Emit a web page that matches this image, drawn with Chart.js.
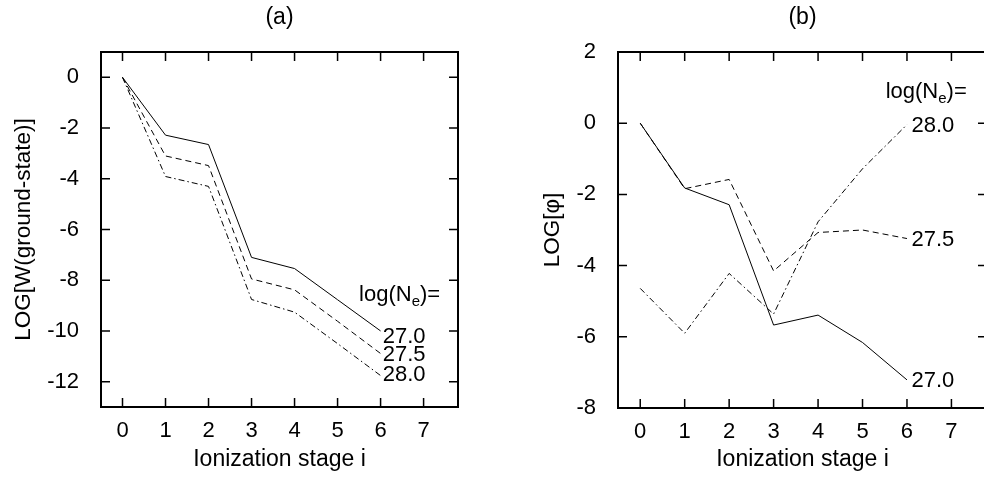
<!DOCTYPE html>
<html lang="en">
<head>
  <meta charset="UTF-8">
  <title>Ionization stage plots</title>
  <script src="https://cdn.jsdelivr.net/npm/chart.js"></script>
  <style>
    html, body {
      margin: 0;
      padding: 0;
      background: #fff;
      width: 984px;
      height: 485px;
      overflow: hidden;
    }
    #chartA { position: absolute; left: 0; top: 0; }
    #chartB { position: absolute; left: 492px; top: 0; }
  </style>
</head>
<body>
  <canvas id="chartA" width="492" height="485"></canvas>
  <canvas id="chartB" width="520" height="485"></canvas>

  <script>
    // ionization stages and tick values
    const stages = [0, 1, 2, 3, 4, 5, 6];
    const xTicks = [0, 1, 2, 3, 4, 5, 6, 7];
    const yTicksA = [0, -2, -4, -6, -8, -10, -12];
    const yTicksB = [2, 0, -2, -4, -6, -8];
    const densities = ['27.0', '27.5', '28.0'];

    // (a) LOG W(ground-state)
    const groundW_27_0 = [0, -2.28, -2.65, -7.1, -7.54, -8.77, -10.0];
    const groundW_27_5 = [0, -3.1, -3.48, -7.95, -8.38, -9.62, -10.89];
    const groundW_28_0 = [0, -3.91, -4.3, -8.76, -9.26, -10.5, -11.76];

    // (b) LOG phi
    const phi_27_0 = [0, -1.82, -2.29, -5.67, -5.39, -6.16, -7.21];
    const phi_27_5 = [0, -1.84, -1.58, -4.15, -3.07, -3.0, -3.24];
    const phi_28_0 = [-4.64, -5.9, -4.22, -5.36, -2.77, -1.28, -0.04];

    const FONT = "'Liberation Sans', Arial, sans-serif";
    const dashes = [[], [6, 4], [6, 3, 1.5, 3]];

    Chart.defaults.font.family = FONT;
    Chart.defaults.color = '#000';

    function toPoints(vals) {
      return stages.map((s, i) => ({ x: s, y: vals[i] }));
    }

    // frame with inward ticks on all four sides (gnuplot style)
    const framePlugin = {
      id: 'frame',
      afterDraw(chart) {
        const { ctx, chartArea: a, scales: { x, y } } = chart;
        ctx.save();
        ctx.strokeStyle = '#000';
        ctx.lineWidth = 1.5;
        ctx.beginPath();
        x.ticks.forEach(t => {
          const px = x.getPixelForValue(t.value);
          ctx.moveTo(px, a.bottom); ctx.lineTo(px, a.bottom - 9);
          ctx.moveTo(px, a.top); ctx.lineTo(px, a.top + 9);
        });
        y.ticks.forEach(t => {
          const py = y.getPixelForValue(t.value);
          ctx.moveTo(a.left, py); ctx.lineTo(a.left + 9, py);
          ctx.moveTo(a.right, py); ctx.lineTo(a.right - 9, py);
        });
        ctx.stroke();
        ctx.lineWidth = 2;
        ctx.strokeRect(a.left, a.top, a.right - a.left, a.bottom - a.top);
        ctx.restore();
      }
    };

    // curve labels: "log(Ne)=" header plus the density values
    const labelsPlugin = {
      id: 'curveLabels',
      afterDatasetsDraw(chart, args, opts) {
        const { ctx, scales: { x, y } } = chart;
        ctx.save();
        ctx.fillStyle = '#000';
        ctx.textAlign = 'left';
        ctx.font = '22px ' + FONT;
        ctx.textBaseline = 'middle';
        opts.names.forEach((name, i) => {
          ctx.fillText(name, x.getPixelForValue(opts.x), y.getPixelForValue(opts.y[i]));
        });
        const hx = x.getPixelForValue(opts.headX);
        const hy = y.getPixelForValue(opts.headY);
        ctx.textBaseline = 'alphabetic';
        ctx.fillText('log(N', hx, hy);
        let w = ctx.measureText('log(N').width;
        ctx.font = '15px ' + FONT;
        ctx.fillText('e', hx + w, hy + 5);
        w += ctx.measureText('e').width;
        ctx.font = '22px ' + FONT;
        ctx.fillText(')=', hx + w, hy);
        ctx.restore();
      }
    };

    function makeChart(id, cfg) {
      const ctx = document.getElementById(id).getContext('2d');
      return new Chart(ctx, {
        type: 'line',
        data: {
          datasets: cfg.series.map((vals, i) => ({
            label: densities[i],
            data: toPoints(vals),
            borderColor: '#000',
            borderWidth: 1,
            borderDash: dashes[i],
            pointRadius: 0,
            fill: false,
            tension: 0
          }))
        },
        options: {
          responsive: false,
          animation: false,
          layout: { padding: { left: 0, right: cfg.padRight, top: 0, bottom: 0 } },
          plugins: {
            legend: { display: false },
            tooltip: { enabled: false },
            title: {
              display: true,
              text: cfg.title,
              fullSize: false,
              color: '#000',
              font: { size: 23, weight: 'normal' },
              padding: { top: 4.2, bottom: 20.2 }
            },
            curveLabels: cfg.labels
          },
          scales: {
            x: {
              type: 'linear',
              min: -0.5,
              max: 7.8,
              afterBuildTicks: s => { s.ticks = xTicks.map(v => ({ value: v })); },
              afterFit: s => { s.height = cfg.xHeight; },
              grid: { display: false },
              border: { display: false },
              ticks: { font: { size: 22 }, color: '#000', padding: 3, maxRotation: 0 },
              title: {
                display: true,
                text: 'Ionization stage i',
                color: '#000',
                font: { size: 23 },
                padding: { top: 0, bottom: 12 }
              }
            },
            y: {
              type: 'linear',
              min: cfg.yMin,
              max: cfg.yMax,
              afterBuildTicks: s => { s.ticks = cfg.yTicks.map(v => ({ value: v })); },
              afterFit: s => { s.width = cfg.yWidth; },
              grid: { display: false },
              border: { display: false },
              ticks: { font: { size: 22 }, color: '#000', padding: 14 },
              title: {
                display: true,
                text: cfg.yTitle,
                color: '#000',
                font: { size: 22.5 },
                padding: { top: cfg.yTitlePad, bottom: 0 }
              }
            }
          }
        },
        plugins: [framePlugin, labelsPlugin]
      });
    }

    makeChart('chartA', {
      title: '(a)',
      yTitle: 'LOG[W(ground-state)]',
      series: [groundW_27_0, groundW_27_5, groundW_28_0],
      yMin: -13, yMax: 1, yTicks: yTicksA,
      yWidth: 101, yTitlePad: 10.5, xHeight: 78, padRight: 34,
      labels: { names: densities, x: 6.05, y: [-10.23, -10.95, -11.75], headX: 5.5, headY: -8.83 }
    });

    makeChart('chartB', {
      title: '(b)',
      yTitle: 'LOG[\u03C6]',
      series: [phi_27_0, phi_27_5, phi_28_0],
      yMin: -8, yMax: 2, yTicks: yTicksB,
      yWidth: 126, yTitlePad: 47.5, xHeight: 77, padRight: 25,
      labels: { names: ['27.0', '27.5', '28.0'], x: 6.1, y: [-7.25, -3.29, -0.08], headX: 5.52, headY: 0.72 }
    });
  </script>
</body>
</html>
